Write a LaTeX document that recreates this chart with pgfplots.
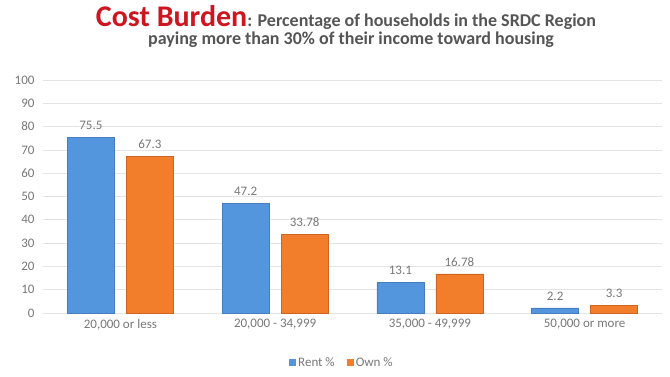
\documentclass[border=0pt]{standalone}
\usepackage{pgfplots}
\pgfplotsset{compat=1.18}
\usepackage{fontspec}
\setmainfont{Carlito}
\definecolor{rentblue}{RGB}{84,150,222}
\definecolor{rentedge}{RGB}{70,125,190}
\definecolor{ownorange}{RGB}{242,125,42}
\definecolor{ownedge}{RGB}{205,100,35}
\definecolor{titlered}{RGB}{205,22,32}
\definecolor{titlegrey}{RGB}{85,85,85}
\definecolor{labgrey}{RGB}{120,120,120}
\definecolor{gridgrey}{RGB}{228,228,228}
\begin{document}
\begin{tikzpicture}[x=1pt,y=1pt]
\path[use as bounding box,fill=white] (0,0) rectangle (670,376);
\node[anchor=base,inner sep=0pt] at (346,349)
  {\bfseries{\fontsize{30}{33}\selectfont\color{titlered}Cost Burden}{\fontsize{18}{21}\selectfont\color{titlegrey}: Percentage of households in the SRDC Region}};
\node[anchor=base,inner sep=0pt] at (351,331)
  {\bfseries\fontsize{18}{21}\selectfont\color{titlegrey}paying more than 30\% of their income toward housing};
\begin{axis}[
  at={(43pt,63pt)}, anchor=south west,
  scale only axis, width=619pt, height=233pt,
  /pgf/number format/assume math mode=true,
  ybar, bar width=47pt, ybar=12pt,
  xmin=-0.5, xmax=3.5, ymin=0, ymax=100,
  xtick={0,1,2,3},
  xticklabels={{20,000 or less},{20,000 - 34,999},{35,000 - 49,999},{50,000 or more}},
  ytick={0,10,...,100},
  ymajorgrids, grid style={gridgrey, line width=0.8pt},
  axis x line*=bottom, axis y line*=left,
  x axis line style={draw=gridgrey, line width=0.8pt, -},
  y axis line style={draw=none},
  major tick length=0pt,
  tick label style={font=\fontsize{13}{15}\selectfont, text=labgrey},
  yticklabel style={xshift=-5pt},
  xticklabel style={yshift=-3pt},
  nodes near coords,
  nodes near coords style={font=\fontsize{13}{15}\selectfont, text=labgrey, yshift=4pt},
  legend style={at={(0.483,-0.215)}, anchor=center, draw=none, fill=none,
    legend columns=2, font=\fontsize{13}{15}\selectfont, text=labgrey,
    /tikz/every even column/.append style={column sep=10pt}},
  legend image code/.code={\draw[#1,draw=none] (0pt,-3pt) rectangle (7pt,4pt);},
]
\addplot[fill=rentblue, draw=rentedge] coordinates {(0,75.5) (1,47.2) (2,13.1) (3,2.2)};
\addplot[fill=ownorange, draw=ownedge] coordinates {(0,67.3) (1,33.78) (2,16.78) (3,3.3)};
\legend{Rent \%, Own \%}
\end{axis}
\end{tikzpicture}
\end{document}
